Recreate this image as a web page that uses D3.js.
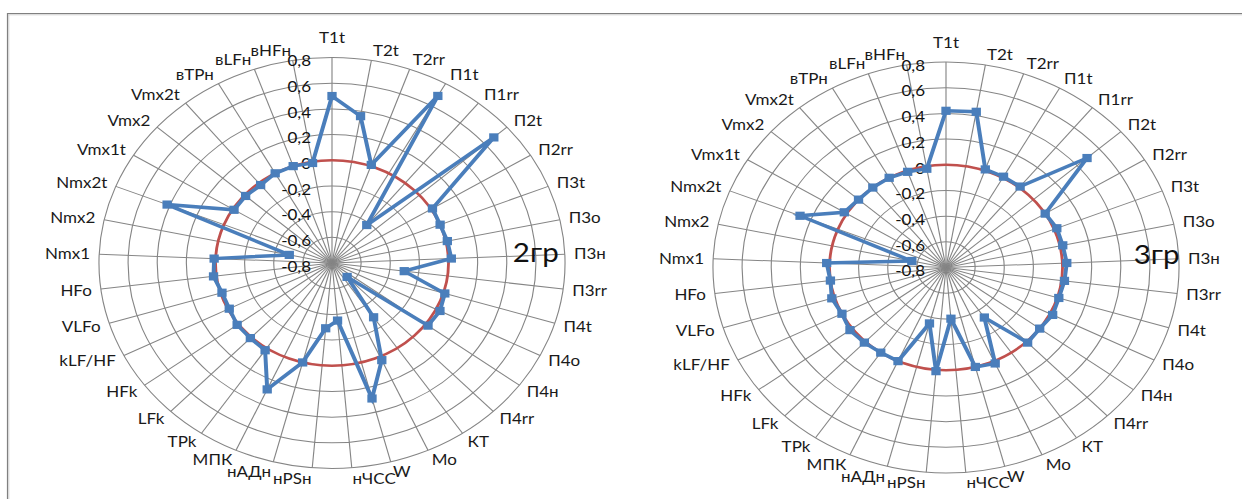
<!DOCTYPE html>
<html>
<head>
<meta charset="utf-8">
<script src="https://cdn.jsdelivr.net/npm/d3@7"></script>
<style>
  html, body { margin: 0; padding: 0; background: #fff; }
  svg { display: block; }
  text { font-family: Lato, "Open Sans", sans-serif; }
</style>
</head>
<body>
<svg id="chart" width="1242" height="499"></svg>
<script>
// Radar categories, clockwise from the top
const categories = ["T1t", "T2t", "T2rr", "П1t", "П1rr", "П2t", "П2rr", "П3t", "П3o", "П3н",
  "П3rr", "П4t", "П4o", "П4н", "П4rr", "КТ", "Mo", "W", "нЧСС", "нPSн", "нАДн", "МПК",
  "TPk", "LFk", "HFk", "kLF/HF", "VLFo", "HFo", "Nmx1", "Nmx2", "Nmx2t", "Vmx1t", "Vmx2",
  "Vmx2t", "вТРн", "вLFн", "вHFн"];

// Group 2 values
const group2Values = [0.50, 0.36, 0.01, 0.69, -0.42, 0.68, 0.01, 0.00, 0.01, 0.02,
  -0.30, 0.01, 0.03, 0.02, -0.65, -0.29, 0.03, 0.29, -0.35, -0.29, 0.00, 0.28,
  0.02, 0.01, 0.01, -0.01, -0.01, 0.02, 0.01, -0.50, 0.42, -0.01, -0.01,
  -0.02, 0.00, 0.00, -0.01];

// Group 3 values
const group3Values = [0.42, 0.43, 0.01, 0.01, 0.01, 0.49, 0.00, 0.02, 0.02, 0.03,
  0.02, 0.01, 0.02, 0.00, 0.01, -0.33, 0.02, 0.00, -0.40, 0.01, -0.35, 0.00,
  0.00, 0.01, 0.02, 0.00, 0.02, 0.00, 0.02, -0.56, 0.28, 0.02, 0.00,
  0.00, 0.00, -0.01, -0.02];

// Value axis
const tickValues = [-0.8, -0.6, -0.4, -0.2, 0, 0.2, 0.4, 0.6, 0.8];
const tickLabels = ["-0,8", "-0,6", "-0,4", "-0,2", "0", "0,2", "0,4", "0,6", "0,8"];
const referenceLevel = 0;

const panelTitles = ["2гр", "3гр"];

const svg = d3.select("#chart");

// Chart frame
svg.append("line").attr("x1", 8).attr("x2", 1242).attr("y1", 13.5).attr("y2", 13.5)
  .attr("stroke", "#808080").attr("stroke-width", 1.2);
svg.append("line").attr("x1", 8).attr("x2", 1242).attr("y1", 14.8).attr("y2", 14.8)
  .attr("stroke", "#cfcfcf").attr("stroke-width", 1);
svg.append("line").attr("x1", 7.5).attr("x2", 7.5).attr("y1", 13).attr("y2", 499)
  .attr("stroke", "#808080").attr("stroke-width", 1.2);
svg.append("line").attr("x1", 8.8).attr("x2", 8.8).attr("y1", 15).attr("y2", 499)
  .attr("stroke", "#cfcfcf").attr("stroke-width", 1);

const R = 205.5;          // outer radius
const stretch = 1.134;    // horizontal stretch of the plot area
const fontSize = 15;

function drawRadar(values, opts) {
  const rScale = d3.scaleLinear().domain([tickValues[0], tickValues[tickValues.length - 1]]).range([0, R]);
  const aScale = d3.scaleLinear().domain([0, categories.length]).range([0, 2 * Math.PI]);
  const px = (i, rad) => rad * Math.sin(aScale(i));
  const py = (i, rad) => -rad * Math.cos(aScale(i));

  const g = svg.append("g")
    .attr("transform", `translate(${opts.cx},${opts.cy}) scale(${stretch},1)`);

  // spokes
  g.append("g").selectAll("line").data(categories).join("line")
    .attr("x1", 0).attr("y1", 0)
    .attr("x2", (d, i) => px(i, rScale(tickValues[tickValues.length - 1])))
    .attr("y2", (d, i) => py(i, rScale(tickValues[tickValues.length - 1])))
    .attr("stroke", "#858585").attr("stroke-width", 1);

  // rings
  g.append("g").selectAll("circle").data(tickValues.slice(1)).join("circle")
    .attr("r", d => rScale(d))
    .attr("fill", "none").attr("stroke", "#858585").attr("stroke-width", 1);

  // value axis labels
  g.append("g").selectAll("text").data(tickValues).join("text")
    .attr("x", -18.5)
    .attr("y", d => -rScale(d) + 3.4 + 0.36 * fontSize)
    .attr("text-anchor", "end")
    .attr("font-size", fontSize)
    .attr("fill", "#111")
    .text((d, i) => tickLabels[i]);

  // reference ring at zero
  g.append("circle").attr("r", rScale(referenceLevel))
    .attr("fill", "none").attr("stroke", "#c0504d").attr("stroke-width", 2.5);

  // series
  const line = d3.lineRadial()
    .angle((d, i) => aScale(i))
    .radius(d => rScale(d))
    .curve(d3.curveLinearClosed);
  g.append("path").datum(values)
    .attr("d", line)
    .attr("fill", "none").attr("stroke", "#4a7ebb").attr("stroke-width", 3.5)
    .attr("stroke-linejoin", "miter");

  const m = 8.2;
  g.append("g").selectAll("rect").data(values).join("rect")
    .attr("x", (d, i) => px(i, rScale(d)) - m / 2)
    .attr("y", (d, i) => py(i, rScale(d)) - m / 2)
    .attr("width", m).attr("height", m)
    .attr("fill", "#4a7ebb");

  // category labels
  const gx = 8, gy = 4, h = 13;
  g.append("g").selectAll("text").data(categories).join("text")
    .attr("font-size", fontSize)
    .attr("fill", "#1a1a1a")
    .attr("text-anchor", (d, i) => {
      const s = Math.sin(aScale(i));
      return s > 0.05 ? "start" : (s < -0.05 ? "end" : "middle");
    })
    .attr("x", (d, i) => (R + gx) * Math.sin(aScale(i)))
    .attr("y", (d, i) => {
      const s = Math.sin(aScale(i)), c = Math.cos(aScale(i));
      // the label sitting on the value axis is lifted clear of the top tick label
      const lift = (Math.abs(s) <= 0.05 && c > 0) ? 9 : 0;
      const ay = -(R + gy) * c;
      return ay - c * h / 2 - lift + 0.36 * fontSize;
    })
    .text(d => d);

  // panel title
  g.append("text")
    .attr("x", opts.titleX).attr("y", opts.titleY)
    .attr("font-size", 26)
    .attr("fill", "#111")
    .text(opts.title);
}

drawRadar(group2Values, { cx: 332, cy: 263, title: panelTitles[0], titleX: 159.5, titleY: -1 });
drawRadar(group3Values, { cx: 946, cy: 267.5, title: panelTitles[1], titleX: 165.5, titleY: -4 });
</script>
</body>
</html>
